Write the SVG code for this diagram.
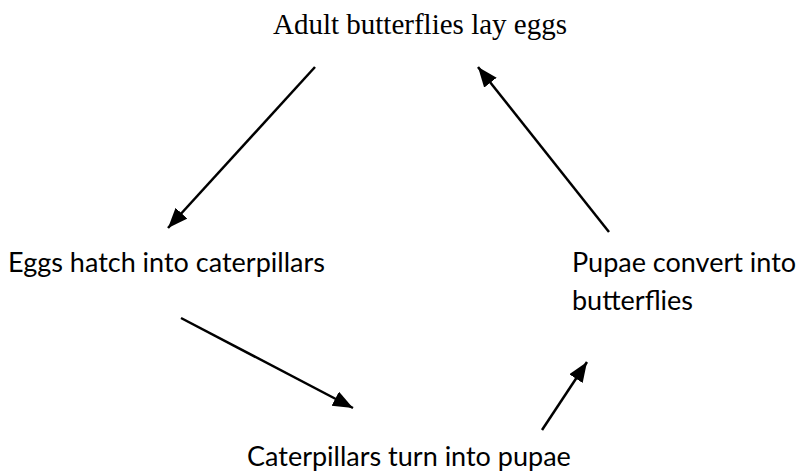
<svg xmlns="http://www.w3.org/2000/svg" width="799" height="475" viewBox="0 0 799 475">
<defs>
<marker id="ah" markerUnits="userSpaceOnUse" markerWidth="24" markerHeight="20" refX="20" refY="8" orient="auto">
<path d="M0,0 L20,8 L0,16 Z" fill="#000"/>
</marker>
<style>
.serif{font-family:"Liberation Serif","Times New Roman",serif;font-size:29px;fill:#000}
.sans{font-family:Lato,"Liberation Sans",sans-serif;font-size:27px;fill:#000}
.conn line{stroke:#000;stroke-width:2.5;marker-end:url(#ah)}
</style>
</defs>
<rect width="799" height="475" fill="#fff"/>
<g id="adult"><text class="serif" x="273" y="34">Adult butterflies lay eggs</text></g>
<g id="eggs"><text class="sans" x="8" y="272">Eggs hatch into caterpillars</text></g>
<g id="pupae"><text class="sans" x="572" y="272">Pupae convert into</text><text class="sans" x="572" y="310">butterflies</text></g>
<g id="caterpillars"><text class="sans" x="247" y="466">Caterpillars turn into pupae</text></g>
<g id="connectors" class="conn">
<line x1="315" y1="67" x2="168" y2="228"/>
<line x1="181" y1="318" x2="353" y2="408"/>
<line x1="542" y1="430" x2="587" y2="362"/>
<line x1="609" y1="232" x2="478" y2="67"/>
</g>
</svg>
